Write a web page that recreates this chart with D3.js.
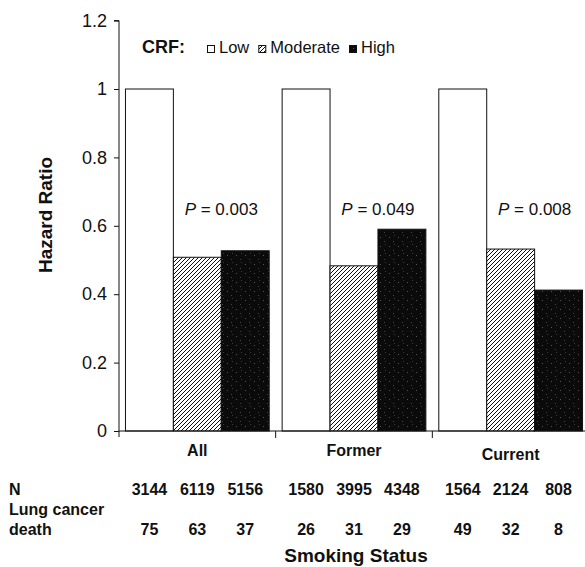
<!DOCTYPE html>
<html>
<head>
<meta charset="utf-8">
<script src="https://cdn.jsdelivr.net/npm/d3@7/dist/d3.min.js"></script>
<style>
  html, body { margin: 0; padding: 0; background: #fff; }
  svg { display: block; font-family: "Liberation Sans", Arial, sans-serif; }
</style>
</head>
<body>
<svg id="chart" width="585" height="567"></svg>
<script>
// ---- data ----
const categories = ["All", "Former", "Current"];
const series = ["Low", "Moderate", "High"];
const lowValues = [1.0, 1.0, 1.0];
const moderateValues = [0.508, 0.483, 0.532];
const highValues = [0.527, 0.590, 0.412];
const pLabels = ["0.003", "0.049", "0.008"];
const nCounts = [[3144, 6119, 5156], [1580, 3995, 4348], [1564, 2124, 808]];
const deathCounts = [[75, 63, 37], [26, 31, 29], [49, 32, 8]];
const yTicks = [0, 0.2, 0.4, 0.6, 0.8, 1, 1.2];
const yTickLabels = ["0", "0.2", "0.4", "0.6", "0.8", "1", "1.2"];
const yTitle = "Hazard Ratio";
const xTitle = "Smoking Status";
const legendTitle = "CRF:";

const valuesBySeries = [lowValues, moderateValues, highValues];

// ---- layout ----
const svg = d3.select("#chart");
const x0 = 119, x1 = 589, yTop = 20.6, yBase = 431;
const ink = "#111";

const x = d3.scaleBand().domain(categories).range([x0, x1]).paddingInner(0).paddingOuter(0);
const xs = d3.scaleBand().domain(series).range([0, x.bandwidth()]).paddingInner(0).paddingOuter(0.135);
const y = d3.scaleLinear().domain([0, 1.2]).range([yBase, yTop]);

// patterns
const defs = svg.append("defs");
const hatch = defs.append("pattern").attr("id", "hatch")
  .attr("patternUnits", "userSpaceOnUse").attr("width", 4).attr("height", 4);
hatch.append("rect").attr("width", 4).attr("height", 4).attr("fill", "#fff");
hatch.append("path").attr("d", "M-1,1 l2,-2 M0,4 l4,-4 M3,5 l2,-2")
  .attr("stroke", "#111").attr("stroke-width", 1);
const speck = defs.append("pattern").attr("id", "speck")
  .attr("patternUnits", "userSpaceOnUse").attr("width", 9).attr("height", 9);
speck.append("rect").attr("width", 9).attr("height", 9).attr("fill", "#0b0b0b");
speck.append("rect").attr("x", 2).attr("y", 3).attr("width", 1).attr("height", 1).attr("fill", "#555");
speck.append("rect").attr("x", 6).attr("y", 7).attr("width", 1).attr("height", 1).attr("fill", "#444");
speck.append("rect").attr("x", 7).attr("y", 1).attr("width", 1).attr("height", 1).attr("fill", "#3a3a3a");

const fills = { Low: "#fff", Moderate: "url(#hatch)", High: "url(#speck)" };

// bars
const barData = [];
categories.forEach((c, i) => series.forEach((s, j) => barData.push({ c, s, v: valuesBySeries[j][i], i, j })));
svg.append("g").selectAll("rect").data(barData).join("rect")
  .attr("x", d => x(d.c) + xs(d.s))
  .attr("y", d => y(d.v))
  .attr("width", xs.bandwidth())
  .attr("height", d => y(0) - y(d.v))
  .attr("fill", d => fills[d.s])
  .attr("stroke", ink).attr("stroke-width", 1);

// y axis
const yAxis = d3.axisLeft(y).tickValues(yTicks).tickSize(5).tickPadding(7)
  .tickFormat((d, i) => yTickLabels[i]);
const gy = svg.append("g").attr("transform", `translate(${x0},0)`).call(yAxis);
gy.select(".domain").attr("stroke", ink).attr("d", `M-5,${yTop}H0V${yBase + 6}`);
gy.selectAll(".tick line").attr("stroke", ink);
gy.selectAll(".tick text").attr("fill", ink).style("font-size", "18px")
  .style("font-family", "Liberation Sans, Arial, sans-serif");

// x axis
svg.append("line").attr("x1", x0).attr("x2", x1).attr("y1", yBase).attr("y2", yBase)
  .attr("stroke", ink);
svg.append("g").selectAll("line").data(categories.slice(1)).join("line")
  .attr("x1", d => x(d)).attr("x2", d => x(d))
  .attr("y1", yBase).attr("y2", yBase + 7).attr("stroke", ink);

// category labels
svg.append("g").selectAll("text").data(categories).join("text")
  .attr("x", d => x(d) + x.bandwidth() / 2).attr("y", (d, i) => i === 2 ? 460 : 456)
  .attr("text-anchor", "middle").attr("fill", ink)
  .style("font-size", "16px").style("font-weight", "bold")
  .text(d => d);

// P labels
const pg = svg.append("g").selectAll("text").data(categories).join("text")
  .attr("x", d => x(d) + xs("High")).attr("y", 215)
  .attr("text-anchor", "middle").attr("fill", ink)
  .style("font-size", "17px");
pg.append("tspan").style("font-style", "italic").text("P");
pg.append("tspan").text((d, i) => " = " + pLabels[i]);

// y title
svg.append("text").attr("transform", "translate(52,215) rotate(-90)")
  .attr("text-anchor", "middle").attr("fill", ink)
  .style("font-size", "19px").style("font-weight", "bold").text(yTitle);

// legend
const lg = svg.append("g");
lg.append("text").attr("x", 142).attr("y", 53).attr("fill", ink)
  .style("font-size", "18px").style("font-weight", "bold").text(legendTitle);
let lx = 207;
series.forEach((s, j) => {
  lg.append("rect").attr("x", lx + 0.5).attr("y", 45.5).attr("width", 7).attr("height", 7)
    .attr("fill", fills[s]).attr("stroke", ink);
  const t = lg.append("text").attr("x", lx + 12).attr("y", 53).attr("fill", ink)
    .style("font-size", "16.5px").text(s);
  lx += 12 + t.node().getComputedTextLength() + 9;
});

// table
const tbl = svg.append("g").attr("fill", ink).style("font-size", "16px").style("font-weight", "bold");
tbl.append("text").attr("x", 9).attr("y", 495).text("N");
tbl.append("text").attr("x", 9).attr("y", 515).text("Lung cancer");
tbl.append("text").attr("x", 9).attr("y", 535).text("death");
categories.forEach((c, i) => {
  series.forEach((s, j) => {
    const cx = x(c) + xs(s) + xs.bandwidth() / 2;
    tbl.append("text").attr("x", cx).attr("y", 495).attr("text-anchor", "middle").text(nCounts[i][j]);
    tbl.append("text").attr("x", cx).attr("y", 535).attr("text-anchor", "middle").text(deathCounts[i][j]);
  });
});

// x title
svg.append("text").attr("x", 356).attr("y", 562).attr("text-anchor", "middle")
  .attr("fill", ink).style("font-size", "19px").style("font-weight", "bold").text(xTitle);
</script>
</body>
</html>
